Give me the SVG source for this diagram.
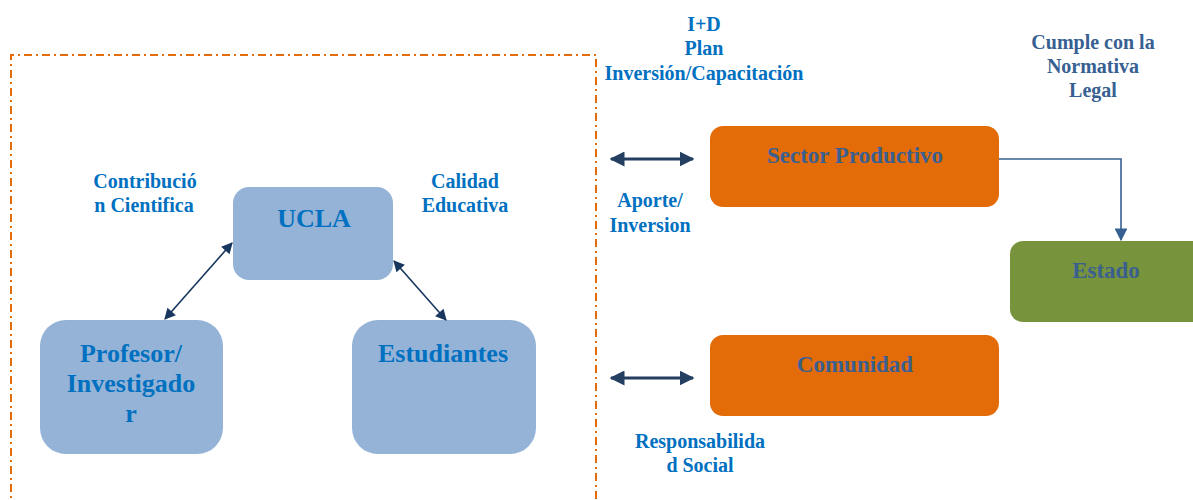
<svg xmlns="http://www.w3.org/2000/svg" width="1193" height="500" viewBox="0 0 1193 500">
<defs>
<marker id="ah" viewBox="0 0 10 10" refX="9" refY="5" markerWidth="7.5" markerHeight="7" orient="auto-start-reverse" markerUnits="strokeWidth"><path d="M0,0 L10,5 L0,10 z" fill="#17375e"/></marker>
<marker id="ah2" viewBox="0 0 10 10" refX="9" refY="5" markerWidth="5" markerHeight="5" orient="auto-start-reverse" markerUnits="strokeWidth"><path d="M0,0 L10,5 L0,10 z" fill="#243f60"/></marker>
<marker id="ah3" viewBox="0 0 10 10" refX="9" refY="5" markerWidth="8" markerHeight="8" orient="auto" markerUnits="strokeWidth"><path d="M0,0 L10,5 L0,10 z" fill="#376092"/></marker>
</defs>
<style>
text{font-family:"Liberation Serif","Times New Roman",serif;font-weight:bold;text-anchor:middle}
.lbl{fill:#0070c0;font-size:20px}
.lbl2{fill:#376092;font-size:20px}
.blue{fill:#95b3d7}
.org{fill:#e36c09}
.grn{fill:#77933c}
.nb{fill:#0070c0;font-size:26px}
.nt{fill:#3b5f8f;font-size:23px}
</style>
<rect width="1193" height="500" fill="#ffffff"/>
<path d="M11,510 L11,55 L596,55 L596,510" fill="none" stroke="#e46c0a" stroke-width="2" stroke-dasharray="8,4,2,4"/>
<g id="ucla"><rect class="blue" x="233" y="187" width="160" height="93" rx="16"/><text class="nb" x="314" y="227">UCLA</text></g>
<g id="profesor"><rect class="blue" x="40" y="320" width="183" height="134" rx="26"/><text class="nb" x="131" y="362">Profesor/</text><text class="nb" x="131" y="392">Investigado</text><text class="nb" x="131" y="422">r</text></g>
<g id="estudiantes"><rect class="blue" x="352" y="320" width="184" height="134" rx="26"/><text class="nb" x="443" y="362">Estudiantes</text></g>
<g id="sector"><rect class="org" x="710" y="126" width="289" height="81" rx="13"/><text class="nt" x="855" y="163">Sector Productivo</text></g>
<g id="comunidad"><rect class="org" x="710" y="335" width="289" height="81" rx="13"/><text class="nt" x="855" y="372">Comunidad</text></g>
<g id="estado"><rect class="grn" x="1010" y="241" width="200" height="81" rx="13"/><text class="nt" x="1106" y="278">Estado</text></g>
<g id="connectors">
<line x1="232" y1="243" x2="165" y2="319" stroke="#17375e" stroke-width="1.6" marker-start="url(#ah)" marker-end="url(#ah)"/>
<line x1="394" y1="261" x2="446" y2="320" stroke="#17375e" stroke-width="1.6" marker-start="url(#ah)" marker-end="url(#ah)"/>
<line x1="611" y1="159" x2="693" y2="159" stroke="#243f60" stroke-width="3" marker-start="url(#ah2)" marker-end="url(#ah2)"/>
<line x1="611" y1="378" x2="693" y2="378" stroke="#243f60" stroke-width="3" marker-start="url(#ah2)" marker-end="url(#ah2)"/>
<path d="M999,159 L1121,159 L1121,240" fill="none" stroke="#376092" stroke-width="1.6" marker-end="url(#ah3)"/>
</g>
<g id="labels">
<text class="lbl" x="145" y="188">Contribució</text><text class="lbl" x="144" y="212">n Cientifica</text>
<text class="lbl" x="465" y="188">Calidad</text><text class="lbl" x="465" y="212">Educativa</text>
<text class="lbl" x="704" y="31">I+D</text><text class="lbl" x="704" y="55">Plan</text><text class="lbl" x="704" y="80">Inversión/Capacitación</text>
<text class="lbl2" x="1093" y="49">Cumple con la</text><text class="lbl2" x="1093" y="73">Normativa</text><text class="lbl2" x="1093" y="97">Legal</text>
<text class="lbl" x="650" y="207">Aporte/</text><text class="lbl" x="650" y="232">Inversion</text>
<text class="lbl" x="700" y="448">Responsabilida</text><text class="lbl" x="700" y="472">d Social</text>
</g>
</svg>
